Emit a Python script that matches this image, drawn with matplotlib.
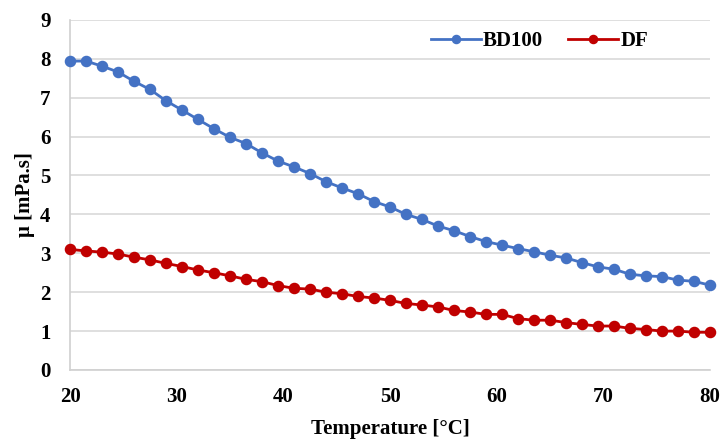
import matplotlib
matplotlib.use("Agg")
import matplotlib.pyplot as plt
import numpy as np

# 温度点 20..80 °C，步长 1.5
temperature = np.arange(41) * 1.5 + 20

bd100 = [7.94, 7.94, 7.81, 7.66, 7.42, 7.21, 6.92, 6.68, 6.44, 6.20,
         5.98, 5.82, 5.58, 5.37, 5.22, 5.05, 4.84, 4.68, 4.53, 4.33,
         4.19, 4.00, 3.87, 3.70, 3.58, 3.43, 3.30, 3.21, 3.12, 3.04,
         2.95, 2.88, 2.76, 2.65, 2.59, 2.46, 2.42, 2.40, 2.31, 2.28,
         2.18]
df_visc = [3.10, 3.06, 3.03, 2.98, 2.90, 2.83, 2.74, 2.66, 2.57, 2.50,
           2.42, 2.33, 2.27, 2.17, 2.10, 2.08, 2.00, 1.96, 1.89, 1.85,
           1.79, 1.71, 1.67, 1.62, 1.53, 1.49, 1.43, 1.43, 1.32, 1.28,
           1.28, 1.22, 1.17, 1.13, 1.13, 1.07, 1.04, 1.00, 1.00, 0.97,
           0.97]

plt.rcParams['font.family'] = ['Liberation Serif', 'DejaVu Serif']
plt.rcParams['font.weight'] = 'bold'

fig = plt.figure(figsize=(7.24, 4.41), dpi=100)
ax = fig.add_axes([0.0967, 0.161, 0.884, 0.794])

ax.plot(temperature, bd100, color='#4472C4', marker='o', markersize=7.3,
        linewidth=2, label='BD100', clip_on=False, zorder=3)
ax.plot(temperature, df_visc, color='#C00000', marker='o', markersize=7.3,
        linewidth=2, label='DF', clip_on=False, zorder=3)

ax.set_xlim(20, 80)
ax.set_ylim(0, 9)
ax.set_xticks(range(20, 81, 10))
ax.set_yticks(range(0, 10))
ax.grid(axis='y', color='#D9D9D9', linewidth=1.2)
ax.set_axisbelow(True)

for side in ['top', 'right']:
    ax.spines[side].set_visible(False)
for side in ['left', 'bottom']:
    ax.spines[side].set_color('#D0D0D0')
    ax.spines[side].set_linewidth(1.2)

ax.tick_params(axis='both', length=0, labelsize=15)
ax.tick_params(axis='y', pad=14)
ax.tick_params(axis='x', pad=12)
for lbl in ax.get_xticklabels() + ax.get_yticklabels():
    lbl.set_fontweight('bold')

ax.set_xlabel('Temperature [°C]', fontsize=15, fontweight='bold', labelpad=9)
ax.set_ylabel('μ [mPa.s]', fontsize=15, fontweight='bold', labelpad=4)

fig.legend(loc='center', bbox_to_anchor=(0.745, 0.907), ncol=2,
           frameon=False, fontsize=15, handlelength=2.4, handletextpad=0.1,
           columnspacing=1.2, markerscale=0.8)

fig.savefig('out.png', dpi=100)
